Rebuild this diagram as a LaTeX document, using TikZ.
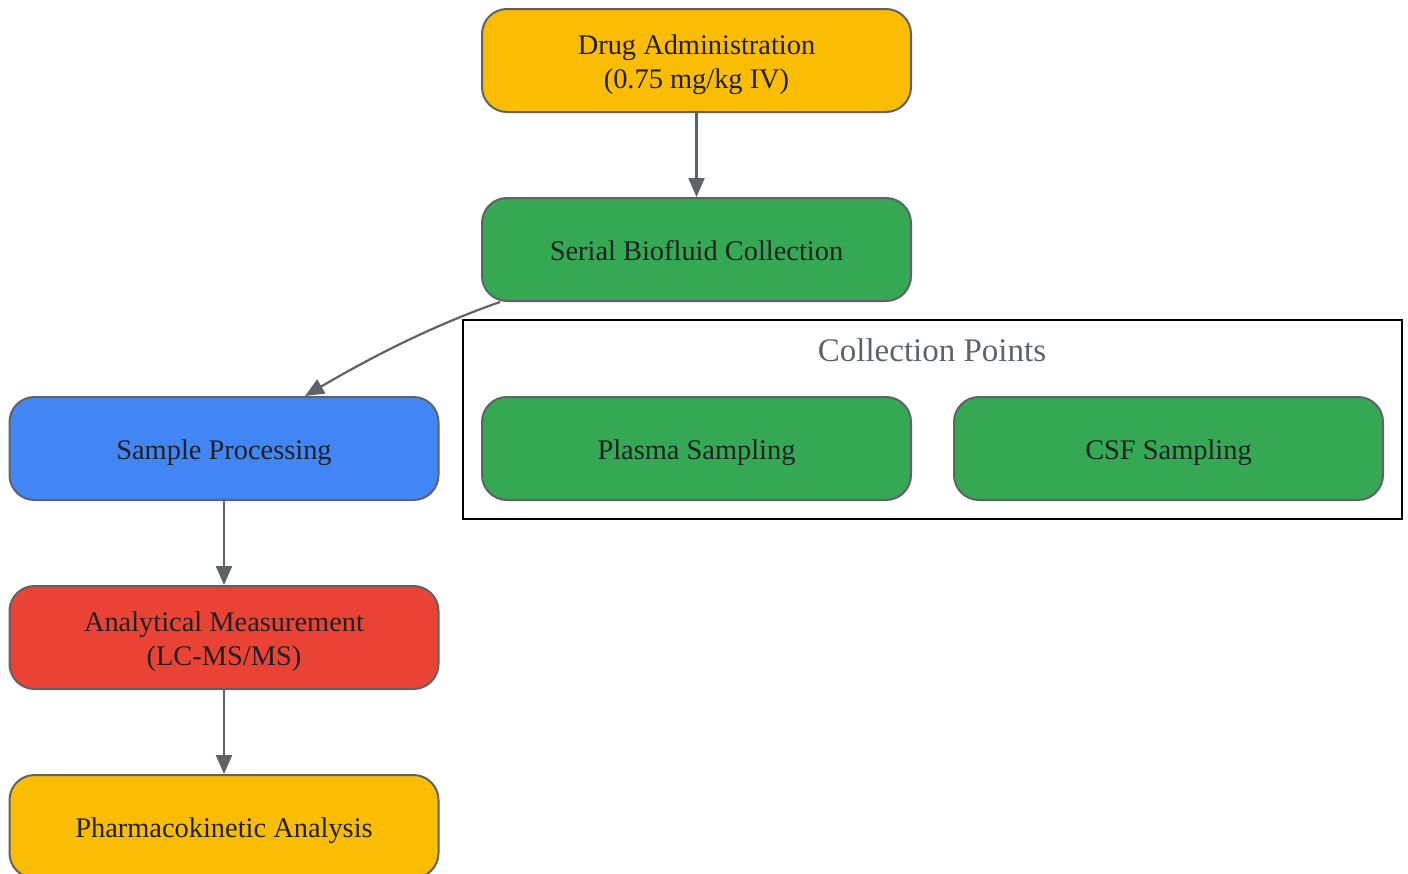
\documentclass[tikz,border=0pt]{standalone}
\usepackage{fontspec}
\setmainfont{Liberation Serif}
\usetikzlibrary{arrows.meta}
\definecolor{gyellow}{HTML}{FBBC04}
\definecolor{ggreen}{HTML}{34A853}
\definecolor{gblue}{HTML}{4285F4}
\definecolor{gred}{HTML}{EA4335}
\definecolor{edgegray}{HTML}{5F6368}
\definecolor{txtdark}{HTML}{202124}
\newcommand{\boxtext}[1]{\raisebox{-4pt}[\height][\depth]{\begin{tabular}{@{}c@{}}#1\end{tabular}}}
\tikzset{
  box/.style={draw=edgegray, line width=2pt, rounded corners=25pt,
    minimum width=429pt, minimum height=103pt, inner sep=0pt,
    align=center, text=txtdark, font=\fontsize{28.4}{34}\selectfont},
  conn/.style={draw=edgegray, line width=2.2pt,
    -{Triangle[length=19pt,width=16pt]}},
  cluster/.style={draw=black, line width=2pt},
  clusterlabel/.style={text=edgegray, font=\fontsize{33}{40}\selectfont}
}
\begin{document}
\begin{tikzpicture}[x=1pt,y=-1pt]
\useasboundingbox (0,0) rectangle (1408,873);
\clip (0,0) rectangle (1408,873);
\node[cluster, minimum width=939pt, minimum height=199pt, inner sep=0pt] (clusterbox) at (932.5,419.5) {};
\node[clusterlabel] (clusterlab) at (932,350) {Collection Points};
\node[box, fill=gyellow] (drug) at (696.5,60.5) {\boxtext{Drug Administration\\(0.75 mg/kg IV)}};
\node[box, fill=ggreen] (serial) at (696.5,249.5) {\boxtext{Serial Biofluid Collection}};
\node[box, fill=gblue] (sample) at (224,448.5) {\boxtext{Sample Processing}};
\node[box, fill=gred] (analyt) at (224,637.5) {\boxtext{Analytical Measurement\\(LC-MS/MS)}};
\node[box, fill=gyellow] (pk) at (224,826.5) {\boxtext{Pharmacokinetic Analysis}};
\node[box, fill=ggreen] (plasma) at (696.5,448.5) {\boxtext{Plasma Sampling}};
\node[box, fill=ggreen] (csf) at (1168.5,448.5) {\boxtext{CSF Sampling}};
\draw[conn] (drug) -- (serial);
\draw[conn] ([xshift=19pt]serial.south west) .. controls (440,323) and (380,352) .. ([xshift=81pt]sample.north);
\draw[conn] (sample) -- (analyt);
\draw[conn] (analyt) -- (pk);
\end{tikzpicture}
\end{document}
